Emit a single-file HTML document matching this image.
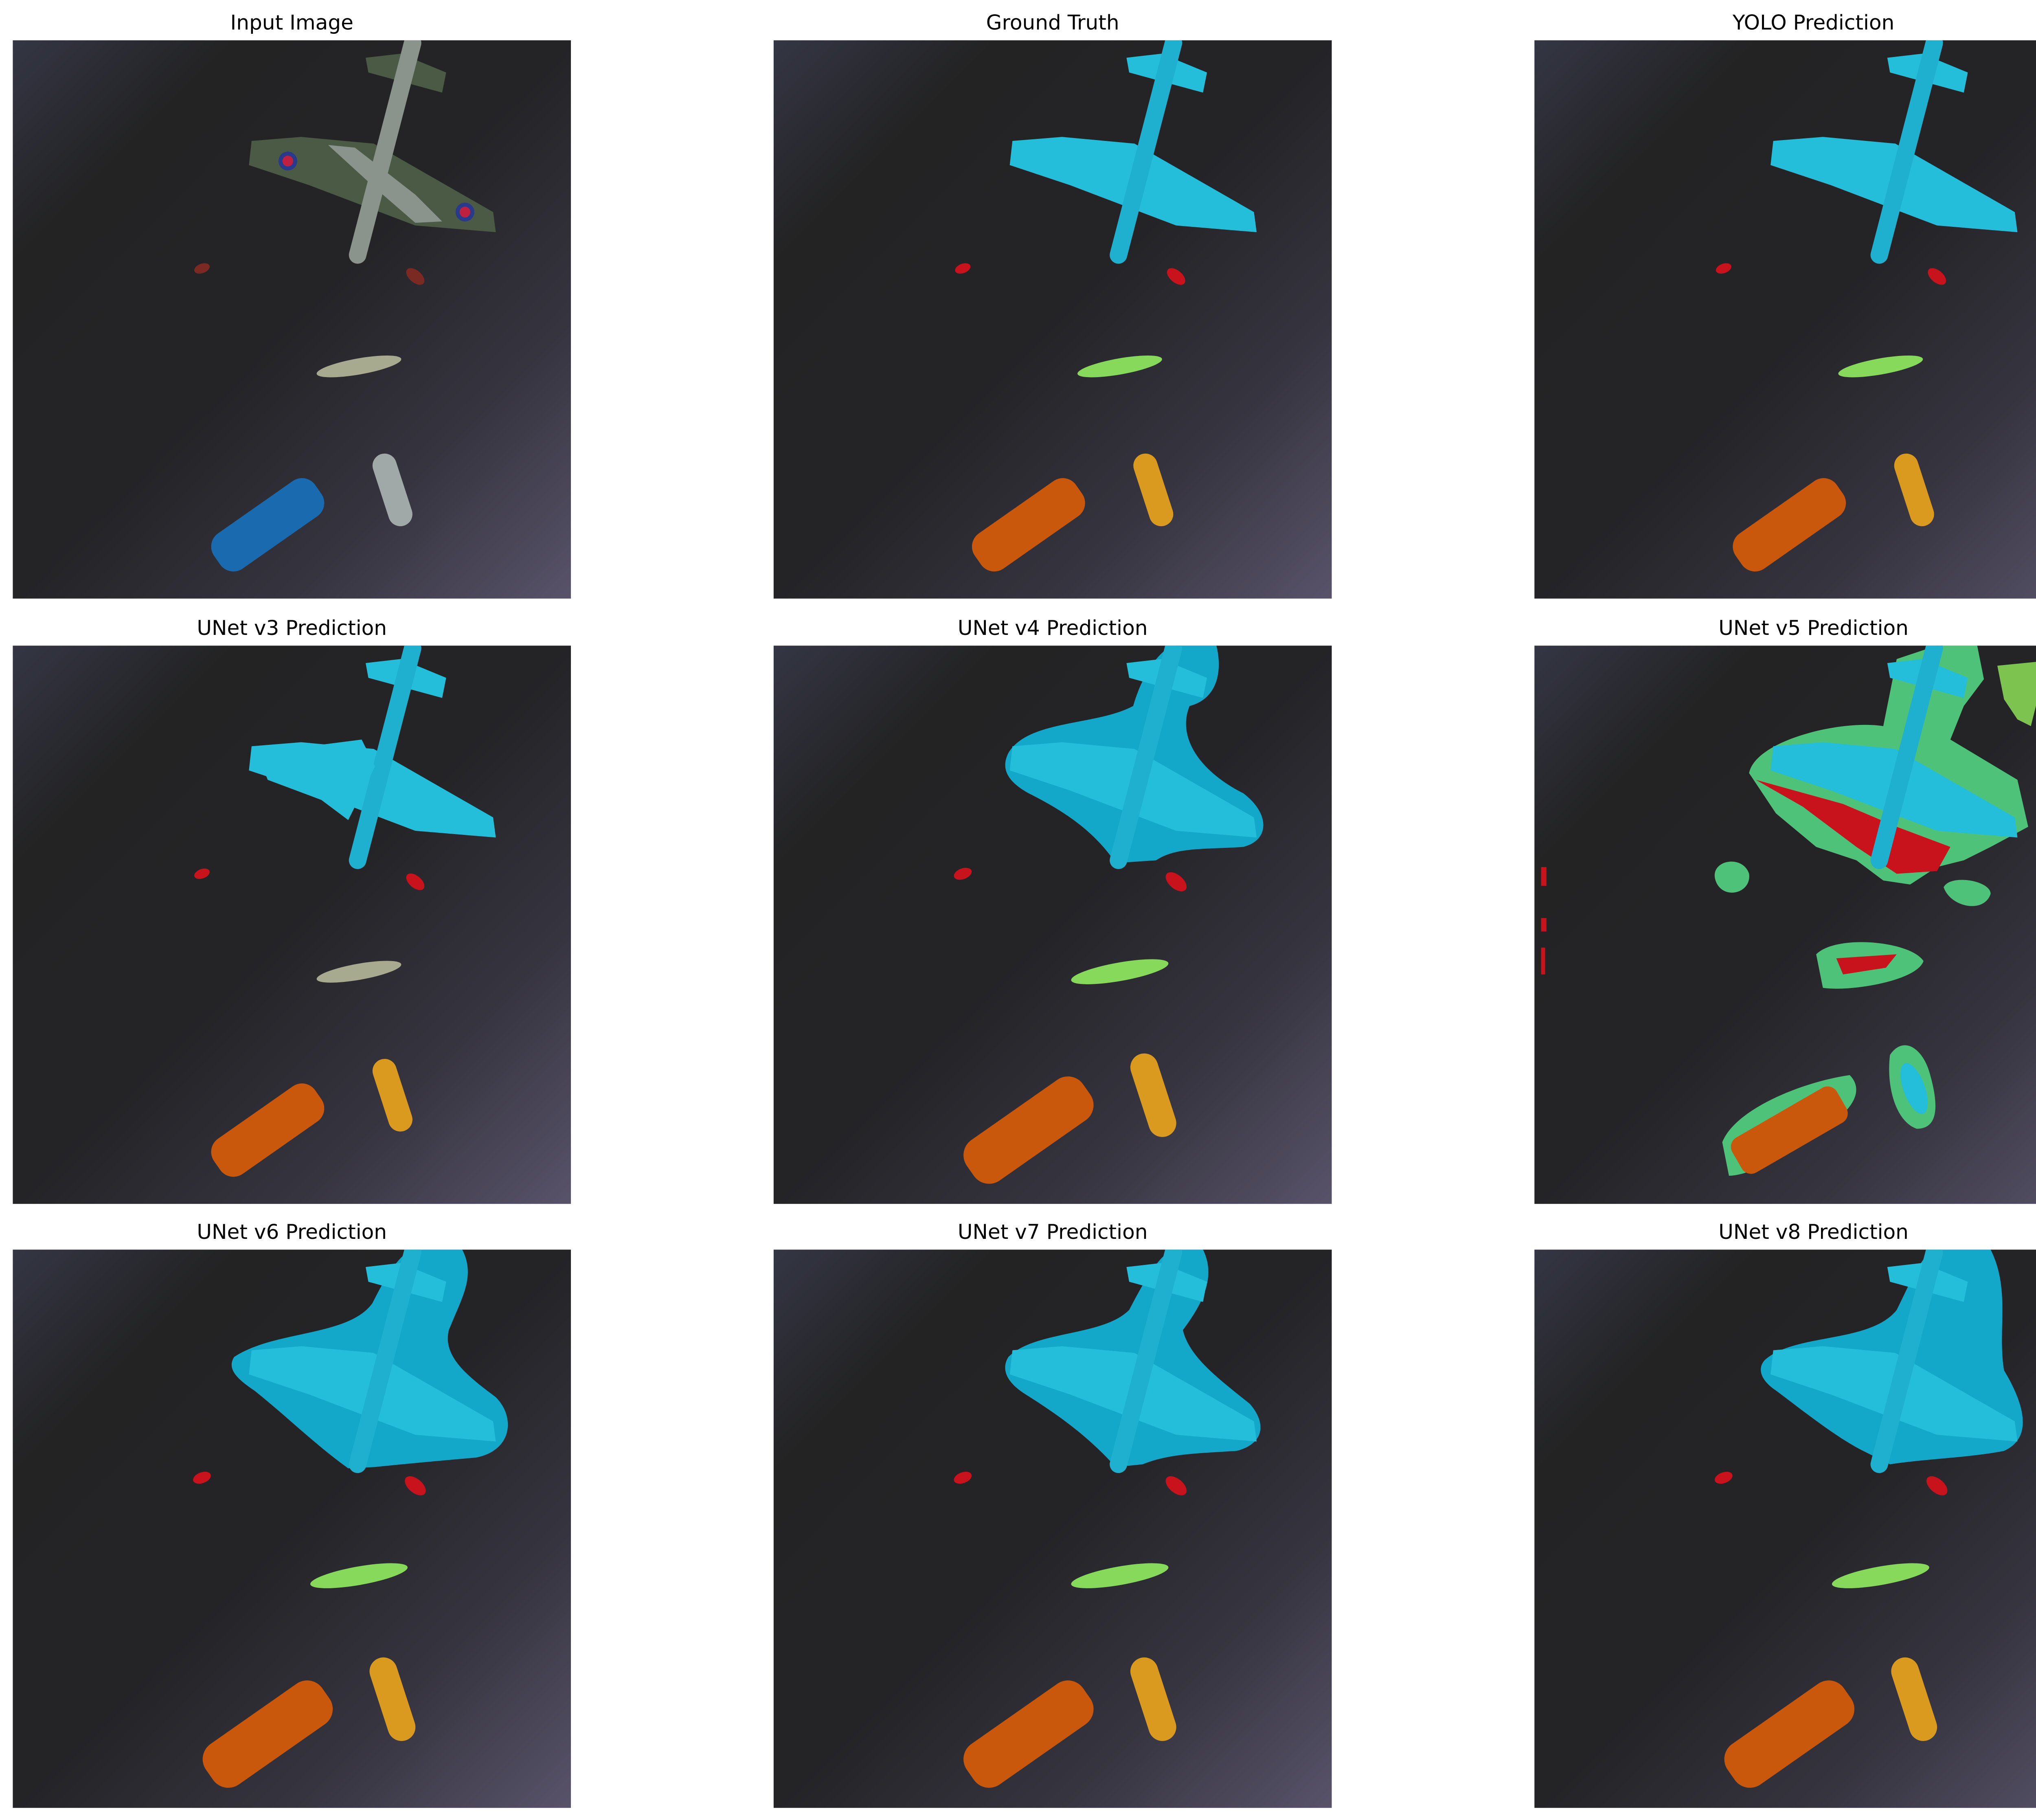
<!DOCTYPE html>
<html><head><meta charset="utf-8"><style>
html,body{margin:0;padding:0;background:#fff;overflow:hidden;}
svg{display:block;}
text{font-family:"DejaVu Sans","Liberation Sans",sans-serif;}
</style></head><body>
<svg id="fig" width="5167" height="4469" viewBox="0 0 1568 1356" preserveAspectRatio="none" xmlns="http://www.w3.org/2000/svg">
<defs>
<linearGradient id="bg" x1="0" y1="0" x2="1" y2="1">
<stop offset="0" stop-color="#343644"/>
<stop offset="0.2" stop-color="#232324"/>
<stop offset="0.5" stop-color="#242427"/>
<stop offset="0.75" stop-color="#36343f"/>
<stop offset="1" stop-color="#58536a"/>
</linearGradient>
<clipPath id="pc"><rect x="0" y="0" width="416" height="416"/></clipPath>
</defs>
</svg>
<script>
const titles = ["Input Image","Ground Truth","YOLO Prediction","UNet v3 Prediction","UNet v4 Prediction","UNet v5 Prediction","UNet v6 Prediction","UNet v7 Prediction","UNet v8 Prediction"];
const colX = [9.5, 576.5, 1143.5];
const rowY = [30, 481, 931];
const NS = "http://www.w3.org/2000/svg";
const svg = document.getElementById('fig');
const C = {cyan:"#24bdda", cyan2:"#13a8c9", red:"#c8121c", green:"#86d95a", orange:"#c9570c", gold:"#d99a1f", mint:"#4fc27a"};
const WING = "M178,75 L215,72 L269,77 L358,128 L360,143 L300,138 L221,108 L176,93 Z";
const TAIL = "M263,13 L289,10 L323,24 L320,39 L265,24 Z";
function el(tag, attrs, parent){const e=document.createElementNS(NS,tag);for(const k in attrs)e.setAttribute(k,attrs[k]);parent.appendChild(e);return e;}
function plane(g, fill, fus, n){
  let p=el('path',{d:WING,fill:fill},g);
  
  
  let t=el('path',{d:TAIL,fill:fill},g);
  
  
  let f=el('line',{x1:298,y1:2,x2:257,y2:160,stroke:fus,'stroke-width':13,'stroke-linecap':'round'},g);
  
  
}
function blob(g, d, fill, name){
  let b=el('path',{d:d,fill:fill},g);
  
  
}
function objects(g, cols, n, big){
  const s = big||1;
  let f1=el('ellipse',{cx:141,cy:170,rx:6*s,ry:3.5*s,fill:cols.ball,transform:'rotate(-20 141 170)'},g);
  
  
  let f2=el('ellipse',{cx:300,cy:176,rx:8*s,ry:4.5*s,fill:cols.ball,transform:'rotate(40 300 176)'},g);
  
  
  if(cols.hat!=='none'){
  let h=el('ellipse',{cx:258,cy:243,rx:32*s,ry:6*s,fill:cols.hat,transform:'rotate(-10 258 243)'},g);
  
  
  }
  let c=el('rect',{x:190-46*s,y:361-16*s,width:92*s,height:32*s,rx:12*s,fill:cols.car,transform:'rotate(-35 190 361)'},g);
  
  
  let b=el('rect',{x:283-28*s,y:335-9*s,width:56*s,height:18*s,rx:9*s,fill:cols.board,transform:'rotate(72 283 335)'},g);
  
  
}
const BIG4 = "M175,80 C190,55 240,60 268,45 C275,20 290,0 300,0 L330,0 C335,20 330,40 310,45 C300,70 320,95 350,110 C370,125 370,145 350,150 C320,152 300,150 285,160 L255,162 C240,140 220,125 190,110 C172,100 170,90 175,80 Z";
const BIG6 = "M165,80 C195,60 250,65 268,40 C278,20 290,0 300,0 L335,0 C345,20 335,35 325,60 C320,80 340,95 360,110 C375,125 372,150 345,155 C310,158 290,160 270,162 L250,163 C225,145 205,125 180,105 C165,95 160,88 165,80 Z";
const BIG8 = "M172,82 C195,62 250,70 270,45 C280,25 290,0 300,0 L340,0 C355,30 345,60 350,90 C365,115 372,140 350,150 C325,155 290,156 265,160 L245,150 C225,140 200,120 180,105 C168,97 166,88 172,82 Z";
const BIG7 = "M175,80 C195,60 245,65 265,45 C278,20 290,0 300,0 L320,0 C330,20 320,40 305,60 C310,80 330,95 355,115 C368,130 365,145 345,150 C315,152 295,152 275,160 L255,162 C235,140 215,125 188,108 C172,98 170,88 175,80 Z";
const colored = {ball:C.red, hat:C.green, car:C.orange, board:C.gold};
for(let i=0;i<9;i++){
  const x=colX[i%3], y=rowY[Math.floor(i/3)];
  const t=el('text',{x:x+208,y:y-8,'text-anchor':'middle','font-size':15.2,fill:'#000'},svg);
  t.textContent=titles[i];
  
  
  const g=el('g',{transform:`translate(${x},${y})`,'clip-path':'url(#pc)'},svg);
  
  
  const r=el('rect',{x:0,y:0,width:416,height:416,fill:'url(#bg)'},g);
  
  
  if(i===0){
    plane(g,"#4a5a44","#8a948c",i);
    el('path',{d:"M235,78 L255,80 L300,115 L320,135 L300,136 L270,110 Z",fill:'#8a948c'},g);
    el('circle',{cx:205,cy:90,r:7,fill:'#2a3a8a'},g);el('circle',{cx:205,cy:90,r:4,fill:'#c02040'},g);
    el('circle',{cx:337,cy:128,r:7,fill:'#2a3a8a'},g);el('circle',{cx:337,cy:128,r:4,fill:'#c02040'},g);
    objects(g,{ball:"#7a2a22",hat:"#a8aa90",car:"#1a6ab0",board:"#a0a8a8"},i);
  } else if(i===1||i===2){
    plane(g,C.cyan,"#1fb0cf",i);
    objects(g,colored,i);
  } else if(i===3){
    plane(g,C.cyan,"#1fb0cf",i);
    el('path',{d:"M182,80 L260,70 L270,90 L250,130 L230,115 L190,100 Z",fill:C.cyan},g);
    objects(g,{ball:C.red,hat:'#a8aa90',car:C.orange,board:C.gold},i);
  } else if(i===5){
    blob(g,"M160,95 C165,70 230,55 260,60 L270,10 L300,0 L330,0 L335,25 L320,45 L310,70 L360,100 L368,135 L340,150 L320,160 L300,165 L280,178 L260,175 L240,160 L210,150 L180,125 Z",C.mint,'plane-halo-5');
    blob(g,"M165,100 L200,120 L240,150 L270,170 L300,168 L310,150 L270,135 L230,118 Z",C.red,'plane-red-5');
    plane(g,C.cyan,"#1fb0cf",i);
    blob(g,"M345,15 L395,10 L390,30 L375,40 L370,60 L360,55 L350,40 Z","#7cc44f",'green-blob-5');
    blob(g,"M135,175 C130,160 155,155 160,170 C162,185 140,190 135,175 Z",C.mint,'ball-mask-5');
    blob(g,"M305,180 C310,170 340,175 340,185 C335,200 310,195 305,180 Z",C.mint,'ball2-mask-5');
    blob(g,"M210,230 C225,215 280,220 290,235 C285,250 235,258 215,255 Z",C.mint,'hat-mask-5');
    blob(g,"M225,233 L270,230 L262,240 L230,245 Z",C.red,'hat-red-5');
    blob(g,"M140,370 C150,345 200,325 235,320 C245,330 240,345 215,360 C190,380 160,395 145,395 Z",C.mint,'car-halo-5');
    el('rect',{x:145,y:346,width:90,height:30,rx:8,fill:C.orange,transform:'rotate(-30 190 361)'},g);
    blob(g,"M265,305 C275,290 290,300 295,320 C302,345 300,360 285,360 C270,355 262,330 265,305 Z",C.mint,'board-halo-5');
    el('ellipse',{cx:283,cy:330,rx:8,ry:20,fill:C.cyan,transform:'rotate(-20 283 330)'},g);
    el('rect',{x:5,y:165,width:4,height:14,fill:C.red},g);
    el('rect',{x:5,y:203,width:4,height:10,fill:C.red},g);
    el('rect',{x:5,y:225,width:3,height:20,fill:C.red},g);
  } else {
    const d = i===4?BIG4:(i===6?BIG6:(i===7?BIG7:BIG8));
    blob(g,d,C.cyan2,'plane-mask-'+i);
    plane(g,C.cyan,"#1fb0cf",i);
    objects(g,colored,i,1.15);
  }
}
</script>
</body></html>
